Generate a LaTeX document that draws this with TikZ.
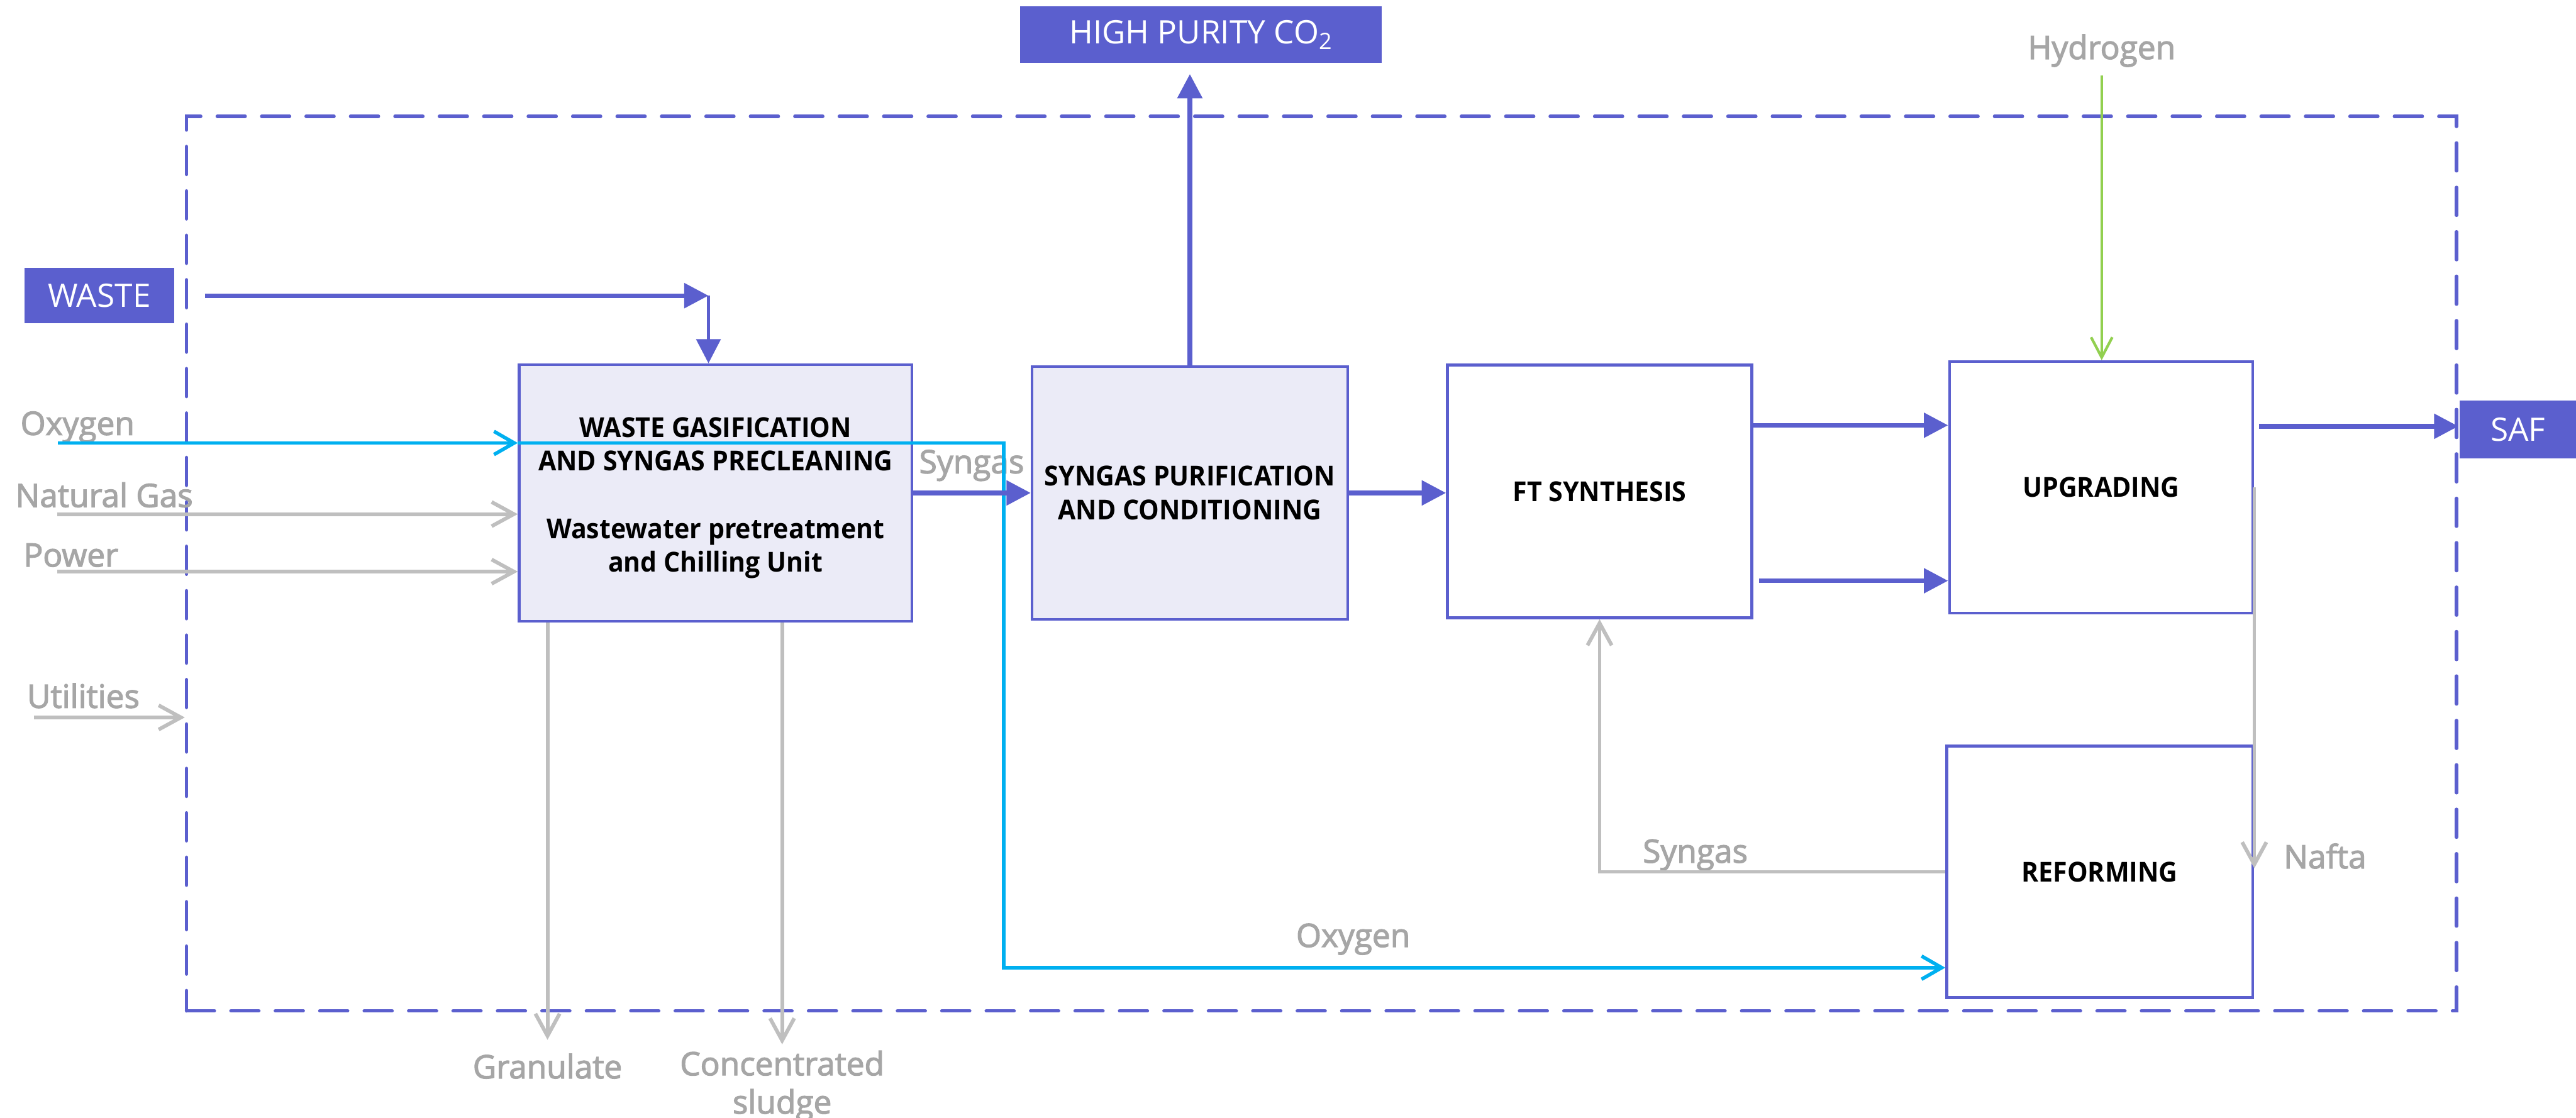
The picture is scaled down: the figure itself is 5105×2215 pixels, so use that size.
\documentclass[tikz,border=0pt]{standalone}
\usepackage{fontspec}
\setmainfont{Open Sans}
\newfontfamily\unitfont{Open Sans}[FakeStretch=0.94]
\newfontfamily\lblfont{Open Sans}[FakeBold=2.5]
\usetikzlibrary{arrows.meta}
\definecolor{procblue}{HTML}{5B5FCE}
\definecolor{boxfill}{HTML}{EBEBF7}
\definecolor{labelgray}{HTML}{A6A6A6}
\definecolor{linegray}{HTML}{BFBFBF}
\definecolor{oxcyan}{HTML}{00B0F0}
\definecolor{h2green}{HTML}{92D050}

\begin{document}
\begin{tikzpicture}[x=0.01cm,y=-0.01cm,
  unit/.style={draw=procblue, line width=1.56pt, inner sep=0pt, align=center,
    font=\fontsize{15.5}{19}\unitfont\bfseries},
  process/.style={unit, fill=boxfill},
  stream/.style={fill=procblue, text=white, inner sep=0pt,
    font=\fontsize{18.2}{21}\selectfont},
  lbl/.style={text=labelgray, inner sep=0pt, font=\fontsize{18.2}{21.6}\lblfont},
  mainflow/.style={draw=procblue, line width=2.6pt,
    -{Triangle[length=0.48cm,width=0.48cm]}},
  sideflow/.style={draw=linegray, line width=2.1pt,
    -{Straight Barb[length=0.44cm,width=0.48cm]}},
  oxflow/.style={draw=oxcyan, line width=2pt,
    -{Straight Barb[length=0.4cm,width=0.46cm]}},
  h2flow/.style={draw=h2green, line width=1.5pt,
    -{Straight Barb[length=0.4cm,width=0.42cm]}},
]
\useasboundingbox (0,0) rectangle (5105,2215);

% plant boundary
\node[draw=procblue, line width=2pt, dash pattern=on 0.55cm off 0.33cm,
  line cap=round, minimum width=44.96cm, minimum height=17.72cm,
  inner sep=0pt] (frame) at (2619,1117) {};

% process units
\node[process, minimum width=7.78cm, minimum height=5.08cm] (gas) at (1418,977) {};
\node[unit, draw=none, anchor=center] (gastext) at ([yshift=-0.1cm]gas.center)
  {WASTE GASIFICATION\\AND SYNGAS PRECLEANING\\[19pt]Wastewater pretreatment\\and Chilling Unit};
\node[process, minimum width=6.25cm, minimum height=5.01cm] (purif) at (2358,977)
  {SYNGAS PURIFICATION\\AND CONDITIONING};
\node[unit, fill=white, minimum width=6.03cm, minimum height=5.01cm] (ft) at (3170,974)
  {FT SYNTHESIS};
\node[unit, fill=white, minimum width=6.01cm, minimum height=4.98cm] (upg) at (4164,966)
  {UPGRADING};
\node[unit, fill=white, minimum width=6.06cm, minimum height=4.98cm] (reform) at (4161,1728)
  {REFORMING};

% feed and product tags
\node[stream, minimum width=7.16cm, minimum height=1.12cm] (co2) at (2380,69)
  {HIGH PURITY CO\textsubscript{2}};
\node[stream, minimum width=2.96cm, minimum height=1.10cm] (waste) at (197,586) {WASTE};
\node[stream, minimum width=2.31cm, minimum height=1.14cm] (saf) at (4990,851) {SAF};

% stream labels
\node[lbl, anchor=base west] (oxlbl) at (40,862) {Oxygen};
\node[lbl, anchor=base west] (nglbl) at (30,1005) {Natural Gas};
\node[lbl, anchor=base west] (pwlbl) at (46,1123) {Power};
\node[lbl, anchor=base west] (utlbl) at (53,1403) {Utilities};
\node[lbl, anchor=base west] (sglbl) at (1821,938) {Syngas};
\node[lbl, anchor=base] (h2lbl) at (4165,117) {Hydrogen};
\node[lbl, anchor=base west] (nflbl) at (4525,1721) {Nafta};
\node[lbl, anchor=base west] (rsglbl) at (3255,1710) {Syngas};
\node[lbl, anchor=base west] (oxlbl2) at (2568,1877) {Oxygen};
\node[lbl, anchor=north] (gran) at (1085,2088) {Granulate};
\node[lbl, anchor=north, align=center] (sludge) at (1550,2082) {Concentrated\\sludge};

% free ends and bends
\coordinate (oxin) at (115,878);
\coordinate (ngin) at (113,1019);
\coordinate (pwin) at (113,1133);
\coordinate (utin) at (67,1422);
\coordinate (wastebend) at (1404,586);
\coordinate (oxbend) at (1989,1918);

% inputs to gasification
\draw[mainflow, shorten <=0.6cm] (waste.east) -- (wastebend);
\draw[mainflow, line width=1.8pt] (wastebend) -- (wastebend |- gas.north);
\draw[oxflow] (oxin) -- (oxin -| gas.west);
\draw[sideflow] (ngin) -- (ngin -| gas.west);
\draw[sideflow] (pwin) -- (pwin -| gas.west);
\draw[sideflow] (utin) -- (utin -| frame.west);
\draw[oxflow] (oxin -| gas.west) -| (oxbend) -- (oxbend -| reform.west);

% main train
\draw[mainflow] (gas.east) -- (purif.west);
\draw[mainflow, shorten >=0.21cm] (purif.north) -- (purif.north |- co2.south);
\draw[mainflow] (purif.east) -- (purif.east -| ft.west);
\draw[mainflow] ([yshift=1.31cm]ft.east) -- ([yshift=1.31cm]ft.east -| upg.west);
\draw[mainflow, shorten <=0.12cm] ([yshift=-1.77cm]ft.east) -- ([yshift=-1.77cm]ft.east -| upg.west);
\draw[mainflow, shorten <=0.09cm] ([yshift=1.21cm]upg.east) -- ([yshift=1.21cm]upg.east -| frame.east);

% side streams
\draw[h2flow, shorten <=0.16cm] (h2lbl.south) -- (h2lbl.south |- upg.north);
\draw[sideflow] (upg.east) -- (upg.east |- nflbl.base);
\draw[sideflow] (reform.west) -| (ft.south);
\draw[sideflow, shorten >=0.27cm] (gas.south -| gran.north) -- (gran.north);
\draw[sideflow, shorten >=0.12cm] (gas.south -| sludge.north) -- (sludge.north);
\end{tikzpicture}
\end{document}
